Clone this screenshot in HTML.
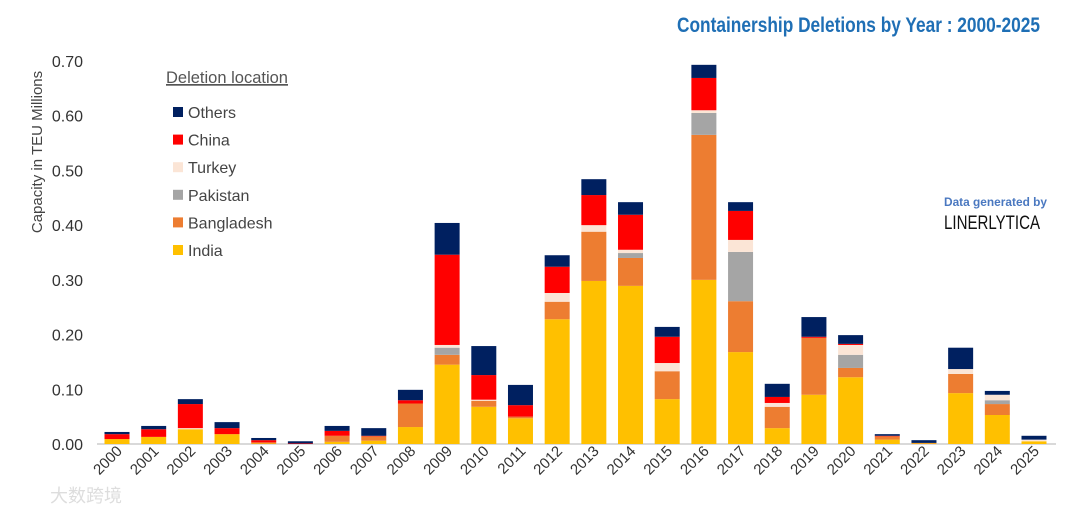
<!DOCTYPE html>
<html><head><meta charset="utf-8"><style>
body{margin:0;background:#fff;}
svg{font-family:"Liberation Sans Narrow","Liberation Sans",sans-serif;}
</style></head><body>
<svg id="chart" width="1079" height="516">
<text x="677" y="32" textLength="363" lengthAdjust="spacingAndGlyphs" font-size="21" font-weight="bold" fill="#1f6fb5">Containership Deletions by Year : 2000-2025</text>
<text transform="translate(42,152) rotate(-90)" text-anchor="middle" font-size="15" fill="#444">Capacity in TEU Millions</text>
<text x="166" y="83" font-size="17" textLength="122" lengthAdjust="spacingAndGlyphs" fill="#555" text-decoration="underline">Deletion location</text>
<text x="944" y="206" textLength="103" lengthAdjust="spacingAndGlyphs" font-size="12" font-weight="bold" fill="#4a78c0">Data generated by</text>
<text x="944" y="229" textLength="96" lengthAdjust="spacingAndGlyphs" font-size="19" fill="#111">LINERLYTICA</text>
<text x="50" y="502" font-size="18" fill="#ddd" font-family="'Liberation Sans','Noto Sans CJK SC',sans-serif">大数跨境</text>
<g id="axes"></g><g id="bars"></g><g id="legend"></g>
</svg>
<script>
const years=["2000","2001","2002","2003","2004","2005","2006","2007","2008","2009","2010","2011","2012","2013","2014","2015","2016","2017","2018","2019","2020","2021","2022","2023","2024","2025"];
const india=[.009,.013,.027,.018,.001,0,.004,.006,.031,.145,.068,.047,.228,.298,.289,.082,.300,.168,.029,.090,.122,.008,.001,.093,.053,.005];
const bangladesh=[0,0,0,0,.002,0,.011,.008,.043,.018,.011,.003,.032,.090,.051,.051,.265,.093,.039,.104,.017,.006,.001,.035,.020,0];
const pakistan=[0,0,0,0,0,0,0,0,0,.013,0,0,0,0,.009,0,.040,.090,0,0,.024,0,0,0,.007,0];
const turkey=[0,0,.002,0,0,0,0,0,0,.005,.002,0,.016,.012,.006,.015,.005,.022,.007,0,.018,0,0,.009,.010,.003];
const china=[.009,.014,.044,.011,.004,.001,.009,.001,.006,.165,.045,.021,.048,.055,.064,.048,.059,.053,.011,.002,.002,.001,0,0,0,0];
const others=[.004,.006,.009,.011,.004,.004,.009,.014,.019,.058,.053,.037,.021,.029,.023,.018,.024,.016,.024,.036,.016,.003,.005,.039,.007,.007];
const yTicks=[0,0.1,0.2,0.3,0.4,0.5,0.6,0.7];
const seriesNames=["Others","China","Turkey","Pakistan","Bangladesh","India"];

const NS="http://www.w3.org/2000/svg";
const y0=444,yTop=61,yMax=0.7;
const yS=v=>y0-(v/yMax)*(y0-yTop);
const xS=i=>117+i*36.68;
const bw=25;
const colors={India:"#ffc000",Bangladesh:"#ed7d31",Pakistan:"#a5a5a5",Turkey:"#fbe5d6",China:"#ff0000",Others:"#002060"};
const stack=[["India",india],["Bangladesh",bangladesh],["Pakistan",pakistan],["Turkey",turkey],["China",china],["Others",others]];
function mk(t,a,p){const e=document.createElementNS(NS,t);for(const k in a)e.setAttribute(k,a[k]);p.appendChild(e);return e;}
const axes=document.getElementById('axes');
yTicks.forEach(v=>{
 const t=mk('text',{x:83,y:yS(v)+6,'text-anchor':'end','font-size':16,fill:'#333'},axes);
 t.textContent=v.toFixed(2);
 
 
});
const ax=mk('line',{x1:97,x2:1056,y1:y0,y2:y0,stroke:'#d9d9d9','stroke-width':2},axes);


const bars=document.getElementById('bars');
years.forEach((yr,i)=>{
 let cum=0;
 stack.forEach(([n,arr])=>{
  const v=arr[i];if(v<=0)return;
  const r=mk('rect',{x:xS(i)-bw/2,y:yS(cum+v),width:bw,height:yS(cum)-yS(cum+v),fill:colors[n]},bars);
  
  
  cum+=v;
 });
 const t=mk('text',{x:0,y:0,'text-anchor':'end','font-size':15,fill:'#333',transform:`translate(${xS(i)+6},${452}) rotate(-45)`},axes);
 t.textContent=yr;
 
 
});
const lg=document.getElementById('legend');
seriesNames.forEach((n,k)=>{
 const yy=113+k*27.6;
 const r=mk('rect',{x:173,y:yy-6,width:10,height:10,fill:colors[n]},lg);
 
 
 const t=mk('text',{x:188,y:yy+5,'font-size':16,fill:'#444'},lg);
 t.textContent=n;
 
 
});
</script>
</body></html>
